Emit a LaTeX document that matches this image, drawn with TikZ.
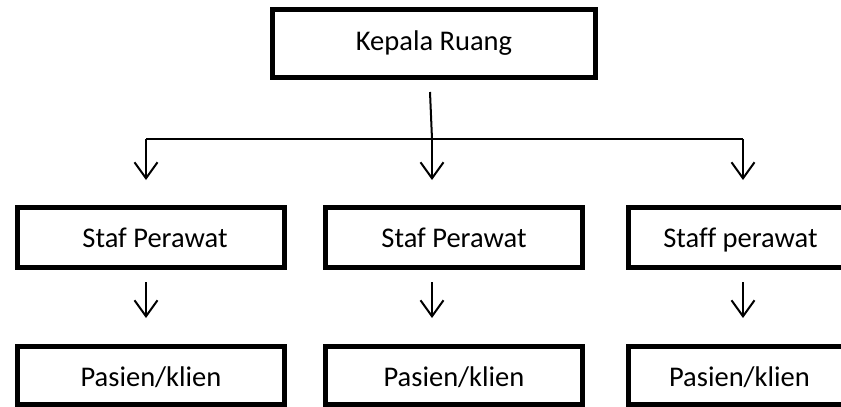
\documentclass[tikz,border=0pt]{standalone}
\usepackage{fontspec}
\setmainfont[Ligatures=NoCommon]{Carlito}
\usetikzlibrary{arrows.meta}
\begin{document}
\begin{tikzpicture}[x=1pt,y=-1pt,
  box/.style={draw=black,line width=5pt,fill=white,inner sep=0pt,
    text depth=0pt,font=\fontsize{28.5}{34}\selectfont},
  headrow/.style={box,text height=14pt},
  staffrow/.style={box,text height=19.6pt},
  patientrow/.style={box,text height=22pt},
  conn/.style={draw=black,line width=2pt},
  arr/.style={conn,-{Straight Barb[length=16pt,width=23pt,line width=2pt]}}]
  \useasboundingbox (0,0) rectangle (841,407);

  % top level
  \node[headrow,minimum width=323pt,minimum height=68pt] (head) at (434,43.5) {Kepala Ruang};

  % second level
  \node[staffrow,minimum width=267pt,minimum height=60pt] (s1) at (151,237.5) {\hspace*{8pt}Staf Perawat};
  \node[staffrow,minimum width=257pt,minimum height=60pt] (s2) at (454,237.5) {Staf Perawat};
  \node[staffrow,minimum width=215pt,minimum height=60pt] (s3) at (736,237.5) {\hspace*{9pt}Staff perawat};

  % third level
  \node[patientrow,minimum width=267pt,minimum height=58pt] (p1) at (151,375.5) {Pasien/klien};
  \node[patientrow,minimum width=257pt,minimum height=58pt] (p2) at (454,375.5) {Pasien/klien};
  \node[patientrow,minimum width=215pt,minimum height=58pt] (p3) at (736,375.5) {\hspace*{7pt}Pasien/klien};

  % branching connector
  \coordinate (h0) at (430,92);
  \coordinate (j)  at (432,139);
  \coordinate (jl) at (146,139);
  \coordinate (jr) at (743,139);
  \draw[conn] (h0) -- (j);
  \draw[conn] (jl) -- (jr);
  \draw[arr,shorten >=25pt] (jl) -- (jl |- s1.north);
  \draw[arr,shorten >=25pt] (j)  -- (j |- s2.north);
  \draw[arr,shorten >=25pt] (jr) -- (jr |- s3.north);

  % staff to patient
  \draw[arr,shorten <=12pt,shorten >=26pt] (jl |- s1.south) -- (jl |- p1.north);
  \draw[arr,shorten <=12pt,shorten >=26pt] (j |- s2.south)  -- (j |- p2.north);
  \draw[arr,shorten <=12pt,shorten >=26pt] (jr |- s3.south) -- (jr |- p3.north);
\end{tikzpicture}
\end{document}
